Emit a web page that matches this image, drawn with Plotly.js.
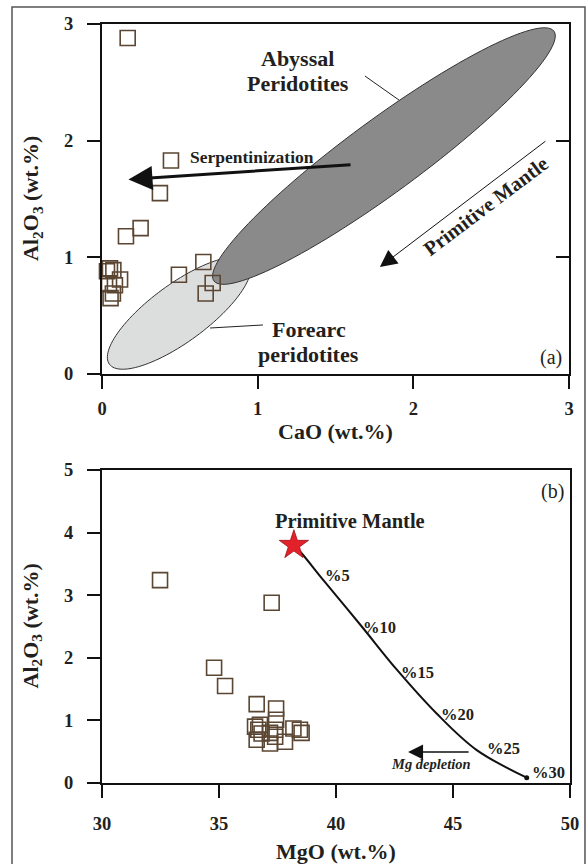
<!DOCTYPE html>
<html><head><meta charset="utf-8">
<script src="https://cdn.plot.ly/plotly-3.0.1.min.js"></script>
<style>body{margin:0;background:#fff}#c{width:588px;height:864px}</style>
</head><body><div id="c"></div>
<script>
// Panel (a): CaO vs Al2O3
const caoA = [0.165, 0.443, 0.372, 0.248, 0.154, 0.651, 0.494, 0.711, 0.666, 0.051, 0.073, 0.116, 0.045, 0.083, 0.055, 0.070, 0.032];
const alA  = [2.88, 1.83, 1.55, 1.25, 1.18, 0.96, 0.85, 0.78, 0.69, 0.905, 0.89, 0.81, 0.77, 0.76, 0.65, 0.69, 0.88];
// Panel (b): MgO vs Al2O3
const mgoB = [32.48, 37.25, 34.79, 35.26, 36.61, 37.44, 36.54, 36.75, 36.68, 36.82, 37.44, 37.40, 37.18, 36.61, 37.18, 37.40, 37.82, 38.18, 38.46, 38.53];
const alB  = [3.24, 2.88, 1.84, 1.55, 1.26, 1.19, 0.90, 0.93, 0.85, 0.79, 1.01, 0.85, 0.80, 0.69, 0.63, 0.74, 0.66, 0.87, 0.85, 0.80];
// Primitive mantle and melting trend
const pmMgO = [38.2];
const pmAl = [3.80];
const meltMgO = [38.2, 38.53, 39.46, 41.1, 42.6, 44.3, 46.0, 48.15];
const meltAl  = [3.80, 3.67, 3.24, 2.50, 1.81, 1.11, 0.53, 0.085];
const meltLabels = ['%5', '%10', '%15', '%20', '%25', '%30'];
const meltLabelX = [40.06, 41.88, 43.50, 45.21, 47.14, 49.06];
const meltLabelY = [3.31, 2.49, 1.77, 1.09, 0.55, 0.17];
const xTicksA = [0, 1, 2, 3];
const yTicksA = [0, 1, 2, 3];
const xTicksB = [30, 35, 40, 45, 50];
const yTicksB = [0, 1, 2, 3, 4, 5];

const SERIF = 'Liberation Serif, Times New Roman, serif';
const TXT = '#231f20';
const tf = {family: SERIF, size: 18.5, color: TXT};
const sqColor = '#5a4632';
const bold = v => v.map(t => '<b>' + t + '</b>');

// rotated ellipse (field outline) in data coords; k = px-per-y / px-per-x
function ellipsePath(cx, cy, a, b, angDeg, k) {
  const th = angDeg * Math.PI / 180;
  let p = '';
  for (let i = 0; i <= 120; i++) {
    const t = 2 * Math.PI * i / 120;
    const X = cx + a * Math.cos(t) * Math.cos(th) - b * Math.sin(t) * Math.sin(th);
    const Y = cy + (a * Math.cos(t) * Math.sin(th) + b * Math.sin(t) * Math.cos(th)) / k;
    p += (i ? 'L' : 'M') + X.toFixed(4) + ',' + Y.toFixed(4);
  }
  return p + 'Z';
}
const kA = 116.7 / 155.7;

const traces = [
  {x: caoA, y: alA, xaxis: 'x', yaxis: 'y', mode: 'markers', type: 'scatter', cliponaxis: false,
   marker: {symbol: 'square-open', size: 15, color: sqColor, line: {width: 1.6, color: sqColor}}},
  {x: meltMgO, y: meltAl, xaxis: 'x2', yaxis: 'y2', mode: 'lines', type: 'scatter',
   line: {color: '#111', width: 2, shape: 'spline', smoothing: 1}},
  {x: [meltMgO[meltMgO.length - 1]], y: [meltAl[meltAl.length - 1]], xaxis: 'x2', yaxis: 'y2', mode: 'markers',
   type: 'scatter', marker: {size: 5, color: '#111'}},
  {x: mgoB, y: alB, xaxis: 'x2', yaxis: 'y2', mode: 'markers', type: 'scatter', cliponaxis: false,
   marker: {symbol: 'square-open', size: 15, color: sqColor, line: {width: 1.6, color: sqColor}}},
  {x: pmMgO, y: pmAl, xaxis: 'x2', yaxis: 'y2', mode: 'markers', type: 'scatter', cliponaxis: false,
   marker: {symbol: 'star', size: 22, color: '#e3212b', line: {width: 0.8, color: '#a01018'}}},
  {x: [0], y: [0], xaxis: 'x', yaxis: 'y3', mode: 'markers', type: 'scatter', marker: {opacity: 0}, hoverinfo: 'skip'}
];

const axBase = {showline: true, linewidth: 2, linecolor: '#111', mirror: true, ticks: 'outside',
  ticklen: 13, tickwidth: 2, tickcolor: '#111', showgrid: false, zeroline: false, tickfont: tf,
  tickmode: 'array', fixedrange: true};

function ann(x, y, text, size, opts) {
  return Object.assign({x: x, y: y, xref: 'x', yref: 'y', text: '<b>' + text + '</b>', showarrow: false,
    font: {family: SERIF, size: size, color: TXT}}, opts || {});
}
function arrow(x, y, ax, ay, w, s, xr, yr) {
  return {x: x, y: y, ax: ax, ay: ay, xref: xr, yref: yr, axref: xr, ayref: yr, text: '',
    showarrow: true, arrowhead: 2, arrowwidth: w, arrowsize: s, arrowcolor: '#111'};
}
const TITLE_FONT = {family: SERIF, size: 22, color: TXT};

const annotations = [
  ann(1.259, 2.708, 'Abyssal', 22),
  ann(1.259, 2.494, 'Peridotites', 22),
  ann(0.963, 1.859, 'Serpentinization', 17.5),
  ann(1.329, 0.377, 'Forearc', 22),
  ann(1.329, 0.163, 'peridotites', 22),
  {x: 2.884, y: 0.137, xref: 'x', yref: 'y', text: '(a)', showarrow: false, font: {family: SERIF, size: 20, color: TXT}},
  ann(2.466, 1.44, 'Primitive Mantle', 20.5, {textangle: -37}),
  arrow(0.170, 1.667, 1.606, 1.795, 3, 1.6, 'x', 'y'),
  arrow(1.785, 0.917, 2.858, 2.005, 1, 3.4, 'x', 'y'),
  ann(40.60, 4.185, 'Primitive Mantle', 20.5, {xref: 'x2', yref: 'y2'}),
  {x: 49.27, y: 4.65, xref: 'x2', yref: 'y2', text: '(b)', showarrow: false, font: {family: SERIF, size: 20, color: TXT}},
  ann(44.06, 0.31, '<i>Mg depletion</i>', 14.5, {xref: 'x2', yref: 'y2'}),
  arrow(43.08, 0.495, 45.73, 0.495, 1.5, 2, 'x2', 'y2'),
  // axis titles
  {xref: 'paper', yref: 'paper', x: 0.498, y: 0.5389, yshift: -58, xanchor: 'center', yanchor: 'middle',
   showarrow: false, text: '<b>CaO (wt.%)</b>', font: TITLE_FONT},
  {xref: 'paper', yref: 'paper', x: 0.5, y: 0, yshift: -68, xanchor: 'center', yanchor: 'middle',
   showarrow: false, text: '<b>MgO (wt.%)</b>', font: TITLE_FONT},
  {xref: 'paper', yref: 'paper', x: 0, xshift: -70, y: 0.7695, xanchor: 'center', yanchor: 'middle',
   textangle: -90, showarrow: false, text: '<b>Al<sub>2</sub>O<sub>3</sub> (wt.%)</b>', font: TITLE_FONT},
  {xref: 'paper', yref: 'paper', x: 0, xshift: -70, y: 0.2062, xanchor: 'center', yanchor: 'middle',
   textangle: -90, showarrow: false, text: '<b>Al<sub>2</sub>O<sub>3</sub> (wt.%)</b>', font: TITLE_FONT}
].concat(meltLabels.map((t, i) => ann(meltLabelX[i], meltLabelY[i], t, 16.5, {xref: 'x2', yref: 'y2'})));

const shapes = [
  {type: 'path', xref: 'x', yref: 'y', path: ellipsePath(0.495, 0.522, 0.555, 0.185, 36.3, kA),
   fillcolor: '#dcdddd', line: {color: '#333', width: 1}, layer: 'below'},
  {type: 'path', xref: 'x', yref: 'y', path: ellipsePath(1.811, 1.868, 1.355, 0.235, 36.3, kA),
   fillcolor: '#8a8a8a', line: {color: '#333', width: 1}, layer: 'below'},
  {type: 'line', xref: 'x', yref: 'y', x0: 1.689, y0: 2.554, x1: 1.908, y1: 2.348, line: {color: '#222', width: 1}},
  {type: 'line', xref: 'x', yref: 'y', x0: 0.694, y0: 0.394, x1: 1.034, y1: 0.420, line: {color: '#222', width: 1}},
  {type: 'rect', xref: 'paper', yref: 'paper', x0: -0.1923, x1: 1.032, y0: -0.112, y1: 1.0224,
   line: {color: '#555', width: 1.5}}
];

const layout = {
  width: 588, height: 864, margin: {l: 102, r: 18, t: 24, b: 81},
  paper_bgcolor: '#fff', plot_bgcolor: 'rgba(0,0,0,0)', showlegend: false,
  xaxis: Object.assign({}, axBase, {domain: [0, 0.9979], anchor: 'y', range: [0, 3],
    tickvals: xTicksA, ticktext: bold(xTicksA), ticklabelstandoff: 4}),
  yaxis: Object.assign({}, axBase, {domain: [0.5389, 1], anchor: 'x', range: [0, 3],
    tickvals: yTicksA, ticktext: bold(yTicksA), ticklabelstandoff: 10}),
  yaxis3: {overlaying: 'y', side: 'right', anchor: 'x', range: [0, 3], tickvals: [1, 2], ticks: 'inside',
    ticklen: 13, tickwidth: 2, tickcolor: '#111', showticklabels: false, showline: false, showgrid: false, zeroline: false},
  xaxis2: Object.assign({}, axBase, {domain: [0, 1], anchor: 'y2', range: [30, 50],
    tickvals: xTicksB, ticktext: bold(xTicksB), ticklabelstandoff: 10}),
  yaxis2: Object.assign({}, axBase, {domain: [0, 0.4124], anchor: 'x2', range: [0, 5],
    tickvals: yTicksB, ticktext: bold(yTicksB), ticklabelstandoff: 10}),
  annotations: annotations, shapes: shapes
};
Plotly.newPlot('c', traces, layout, {staticPlot: true});
</script></body></html>
